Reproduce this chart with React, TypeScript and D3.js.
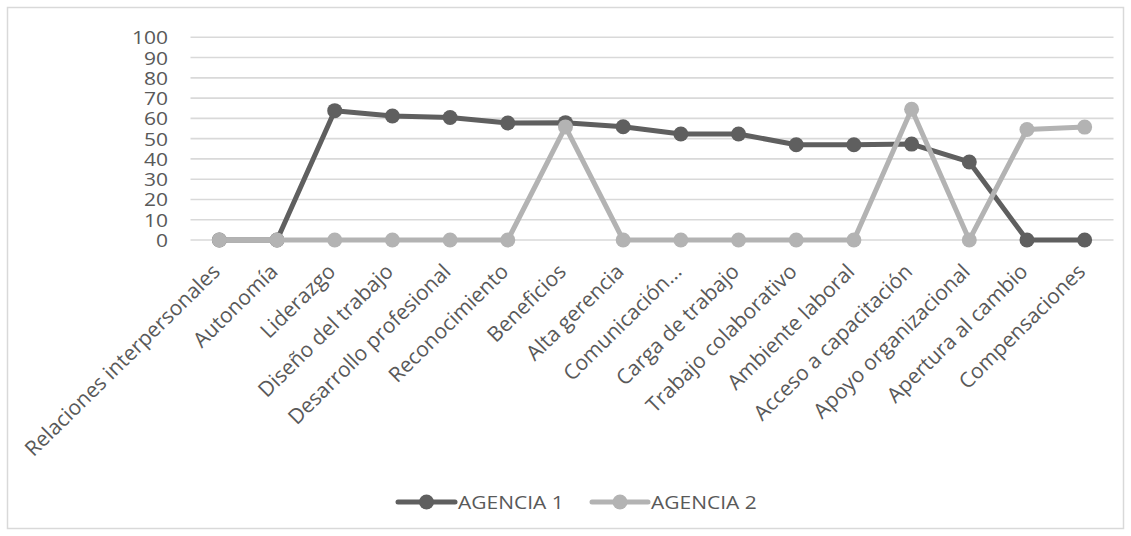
import React from "react";
import * as d3 from "d3";

const categories = [
  "Relaciones interpersonales",
  "Autonomía",
  "Liderazgo",
  "Diseño del trabajo",
  "Desarrollo profesional",
  "Reconocimiento",
  "Beneficios",
  "Alta gerencia",
  "Comunicación...",
  "Carga de trabajo",
  "Trabajo colaborativo",
  "Ambiente laboral",
  "Acceso a capacitación",
  "Apoyo organizacional",
  "Apertura al cambio",
  "Compensaciones",
];

const agencia1 = [0, 0, 63.8, 61.2, 60.4, 57.7, 57.9, 55.9, 52.3, 52.3, 47.0, 47.0, 47.3, 38.5, 0, 0];
const agencia2 = [0, 0, 0, 0, 0, 0, 55.8, 0, 0, 0, 0, 0, 64.5, 0, 54.5, 55.7];

const yTicks = [0, 10, 20, 30, 40, 50, 60, 70, 80, 90, 100];

const seriesNames = ["AGENCIA 1", "AGENCIA 2"];
const seriesColors = ["#5f5f5f", "#b3b3b3"];

const W = 1131;
const H = 536;

export default function App() {
  const x = d3.scaleBand<string>().domain(categories).range([190.5, 1113.5]);
  const y = d3.scaleLinear().domain([0, 100]).range([240, 37.3]);
  const cx = (c: string) => (x(c) as number) + x.bandwidth() / 2;

  const line = d3
    .line<number>()
    .x((_, i) => cx(categories[i]))
    .y((d) => y(d));

  const series = [agencia1, agencia2];
  const textColor = "#595959";
  const font = "'Open Sans', sans-serif";

  const legendItems = [
    { x0: 398, x1: 455, tx: 458 },
    { x0: 592, x1: 648, tx: 651 },
  ];
  const legendY = 502;

  return (
    <svg
      width={W}
      height={H}
      style={{ position: "absolute", left: 0, top: 0, background: "#fff" }}
      fontFamily={font}
    >
      <rect x={0} y={0} width={W} height={H} fill="#fff" />
      <rect x={7.5} y={7.5} width={1116} height={521} fill="none" stroke="#d9d9d9" strokeWidth={1.5} />

      {/* gridlines */}
      {yTicks.map((t) => (
        <line
          key={"g" + t}
          x1={190.5}
          x2={1113.5}
          y1={y(t)}
          y2={y(t)}
          stroke="#d9d9d9"
          strokeWidth={1.6}
        />
      ))}

      {/* y labels */}
      {yTicks.map((t) => (
        <text
          key={"y" + t}
          transform={`translate(168,${y(t)}) scale(1.13,1)`}
          textAnchor="end"
          dominantBaseline="central"
          fontSize={18.6}
          fill={textColor}
        >
          {t}
        </text>
      ))}

      {/* x labels */}
      {categories.map((c) => (
        <text
          key={"x" + c}
          transform={`translate(${cx(c) + 2},273) rotate(-44.5)`}
          textAnchor="end"
          fontSize={21}
          fill={textColor}
        >
          {c}
        </text>
      ))}

      {/* series */}
      {series.map((s, si) => (
        <g key={"s" + si}>
          <path
            d={line(s) as string}
            fill="none"
            stroke={seriesColors[si]}
            strokeWidth={5}
            strokeLinejoin="round"
            strokeLinecap="round"
          />
          {s.map((v, i) => (
            <circle key={i} cx={cx(categories[i])} cy={y(v)} r={7.5} fill={seriesColors[si]} />
          ))}
        </g>
      ))}

      {/* legend */}
      {legendItems.map((it, i) => (
        <g key={"l" + i}>
          <line
            x1={it.x0}
            x2={it.x1}
            y1={legendY}
            y2={legendY}
            stroke={seriesColors[i]}
            strokeWidth={5}
            strokeLinecap="round"
          />
          <circle cx={(it.x0 + it.x1) / 2} cy={legendY} r={7.5} fill={seriesColors[i]} />
          <text
            transform={`translate(${it.tx},${legendY}) scale(1.13,1)`}
            dominantBaseline="central"
            fontSize={18.6}
            fill={textColor}
          >
            {seriesNames[i]}
          </text>
        </g>
      ))}
    </svg>
  );
}
